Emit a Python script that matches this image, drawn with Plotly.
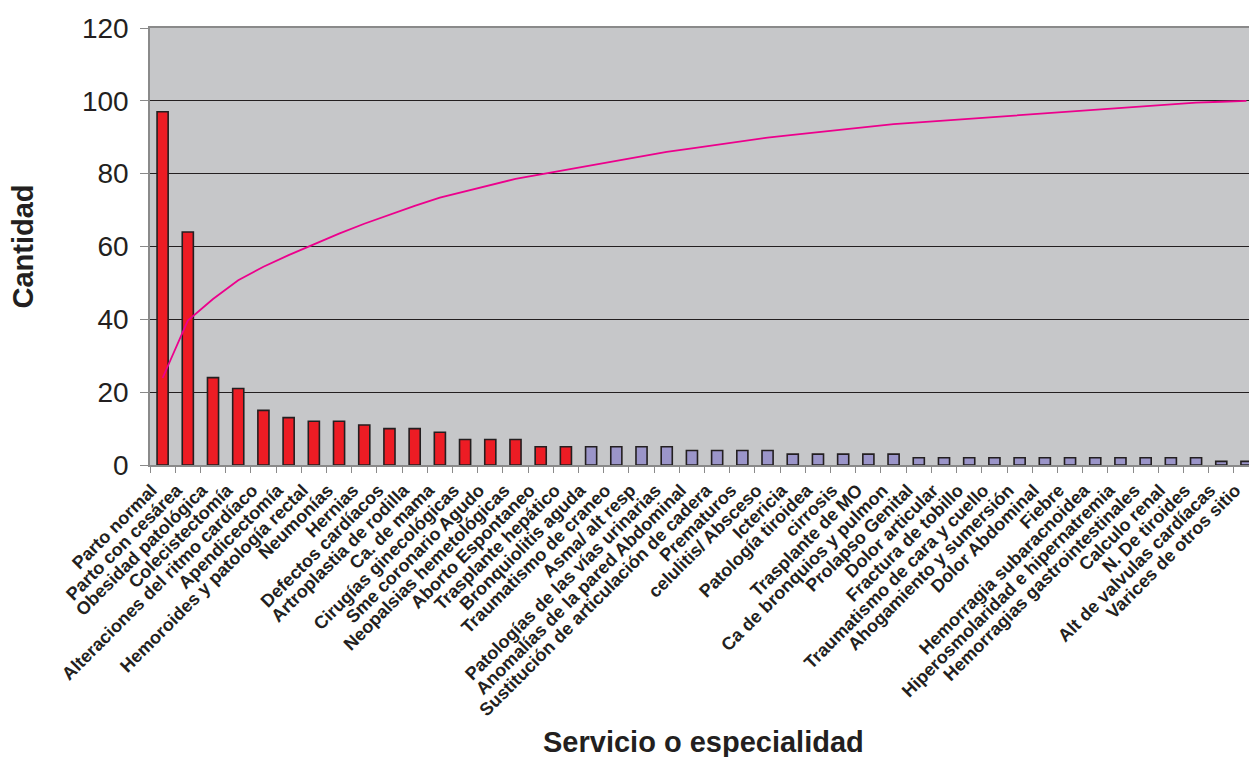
import plotly.graph_objects as go
import numpy as np

categories = [
    "Parto normal", "Parto con cesárea", "Obesidad patológica", "Colecistectomía",
    "Alteraciones del ritmo cardíaco", "Apendicectomía", "Hemoroides y patología rectal",
    "Neumonías", "Hernias", "Defectos cardíacos", "Artroplastia de rodilla", "Ca. de mama",
    "Cirugías ginecológicas", "Sme coronario Agudo", "Neopalsias hemetológicas",
    "Aborto Espontaneo", "Trasplante hepático", "Bronquiolitis aguda", "Traumatismo de craneo",
    "Asma/ alt resp", "Patologías de las vías urinarias", "Anomalías de la pared Abdominal",
    "Sustitución de articulación de cadera", "Prematuros", "celulitis/ Absceso", "Ictericia",
    "Patología tiroidea", "cirrosis", "Trasplante de MO", "Ca de bronquios y pulmon",
    "Prolapso Genital", "Dolor articular", "Fractura de tobillo", "Traumatismo de cara y cuello",
    "Ahogamiento y sumersión", "Dolor Abdominal", "Fiebre", "Hemorragia subaracnoidea",
    "Hiperosmolaridad e hipernatremia", "Hemorragias gastrointestinales", "Calculo renal",
    "N. De tiroides", "Alt de valvulas cardíacas", "Varices de otros sitio",
]

counts = [97, 64, 24, 21, 15, 13, 12, 12, 11, 10, 10, 9, 7, 7, 7, 5, 5,
          5, 5, 5, 5, 4, 4, 4, 4, 3, 3, 3, 3, 3,
          2, 2, 2, 2, 2, 2, 2, 2, 2, 2, 2, 2, 1, 1]

y_ticks = [0, 20, 40, 60, 80, 100, 120]

# Pareto cumulative percentage derived from the counts
cumulative_pct = list(np.cumsum(counts) / sum(counts) * 100)

n_highlight = 17
RED = "#ED1C24"
PURPLE = "#9B95C9"
bar_colors = [RED if i < n_highlight else PURPLE for i in range(len(categories))]

TEXT = "#231F20"
FONT = "Liberation Sans, Arial, sans-serif"

fig = go.Figure()
fig.add_trace(go.Bar(
    x=categories, y=counts,
    marker=dict(color=bar_colors, line=dict(color=TEXT, width=1.6)),
    width=0.44,
    showlegend=False,
))
fig.add_trace(go.Scatter(
    x=categories, y=cumulative_pct, mode="lines",
    line=dict(color="#EC008C", width=1.8),
    showlegend=False,
))

fig.update_layout(
    width=1249, height=757,
    margin=dict(l=150, r=0, t=28, b=292),
    paper_bgcolor="white",
    plot_bgcolor="#C6C7C9",
    font=dict(family=FONT, color=TEXT),
)
fig.update_xaxes(
    type="category",
    range=[-0.5, 43.1],
    tickangle=-45,
    tickfont=dict(family=FONT, size=18, color=TEXT, weight="bold"),
    ticklabelstandoff=6, ticklabelshift=-11,
    ticks="outside", tickson="boundaries", ticklen=6, tickcolor="#8A8A8A", tickwidth=1,
    showline=True, linecolor="#8A8A8A", linewidth=1.5, mirror=True,
    showgrid=False,
)
fig.update_yaxes(
    range=[0, 120],
    tickvals=y_ticks,
    tickfont=dict(size=28, color=TEXT),
    ticklabelstandoff=6,
    ticks="outside", ticklen=8, tickcolor="#8A8A8A", tickwidth=1,
    showline=True, linecolor="#8A8A8A", linewidth=1.5,
    showgrid=True, gridcolor=TEXT, gridwidth=1.3,
    zeroline=False,
)

fig.add_annotation(
    text="<b>Cantidad</b>", xref="paper", yref="paper",
    x=(22 - 150) / 1099, y=0.5, xanchor="center", yanchor="middle",
    textangle=-90, showarrow=False, font=dict(size=29, color=TEXT),
)
fig.add_annotation(
    text="<b>Servicio o especialidad</b>", xref="paper", yref="paper",
    x=(703 - 150) / 1099, y=(465 - 742) / 437, xanchor="center", yanchor="middle",
    showarrow=False, font=dict(size=29, color=TEXT),
)

fig.write_html("out.html")
